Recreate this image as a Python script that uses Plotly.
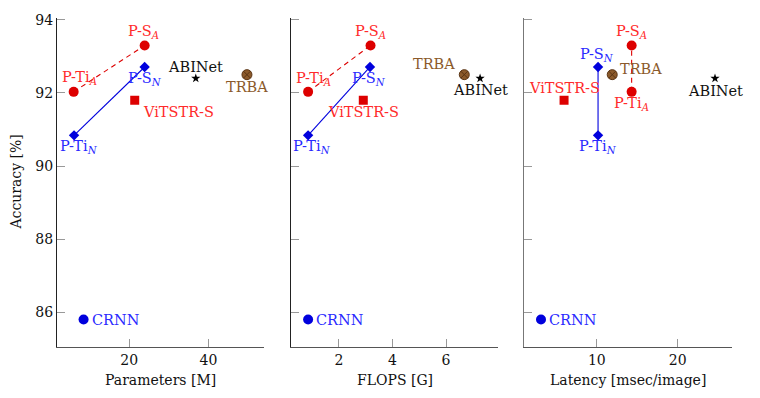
import plotly.graph_objects as go

# ---- data ----
models = ["P-Ti_A", "P-S_A", "P-Ti_N", "P-S_N", "ViTSTR-S", "ABINet", "TRBA", "CRNN"]
display = ["P-Ti<sub><i>A</i></sub>", "P-S<sub><i>A</i></sub>", "P-Ti<sub><i>N</i></sub>",
           "P-S<sub><i>N</i></sub>", "ViTSTR-S", "ABINet", "TRBA", "CRNN"]
accuracy = [92.03, 93.30, 90.84, 92.71, 91.80, 92.40, 92.50, 85.80]
params_m = [6.0, 23.9, 6.1, 23.9, 21.4, 36.8, 49.7, 8.5]
flops_g = [0.85, 3.18, 0.85, 3.16, 2.91, 7.27, 6.68, 0.85]
latency_ms = [14.3, 14.3, 10.15, 10.15, 5.95, 24.6, 11.9, 3.1]

x_titles = ["Parameters [M]", "FLOPS [G]", "Latency [msec/image]"]
x_ranges = [[1.8, 54.0], [0.2, 7.95], [1.0, 26.7]]
x_ticks = [[20, 40], [2, 4, 6], [10, 20]]
y_ticks = [86, 88, 90, 92, 94]
y_range = [85.05, 94.05]

# ---- styles ----
mark_red, mark_blue, mark_brown = "#dd0000", "#0000dd", "#8b5a2b"
txt_red, txt_blue, txt_brown, txt_black = "#ff2a2a", "#2a2aff", "#8b5a2b", "#111111"
style = {
    "P-Ti_A": dict(symbol="circle", color=mark_red, size=10, tc=txt_red),
    "P-S_A": dict(symbol="circle", color=mark_red, size=10, tc=txt_red),
    "P-Ti_N": dict(symbol="diamond", color=mark_blue, size=8, tc=txt_blue),
    "P-S_N": dict(symbol="diamond", color=mark_blue, size=8, tc=txt_blue),
    "ViTSTR-S": dict(symbol="square", color=mark_red, size=9, tc=txt_red),
    "ABINet": dict(symbol="star", color="#000000", size=7, tc=txt_black),
    "TRBA": dict(symbol="circle-x", color=mark_brown, size=10, tc=txt_brown),
    "CRNN": dict(symbol="circle", color=mark_blue, size=10, tc=txt_blue),
}
# label placement per panel: (xanchor, dx, dy) with dy positive = downwards
label_pos = [
    {"P-Ti_A": ("center", 6, -14), "P-S_A": ("center", -1, -13), "P-Ti_N": ("center", 5, 12),
     "P-S_N": ("center", 0, 12), "ViTSTR-S": ("left", 6, 12), "ABINet": ("center", 0, -11),
     "TRBA": ("center", 0, 12), "CRNN": ("left", 6, 0)},
    {"P-Ti_A": ("center", 5, -13), "P-S_A": ("center", 0, -13), "P-Ti_N": ("center", 4, 12),
     "P-S_N": ("center", -1, 12), "ViTSTR-S": ("center", 0, 12), "ABINet": ("center", 0, 12),
     "TRBA": ("right", -7, -11), "CRNN": ("left", 6, 0)},
    {"P-Ti_A": ("center", 0, 12), "P-S_A": ("center", 0, -13), "P-Ti_N": ("center", 0, 12),
     "P-S_N": ("center", -1, -12), "ViTSTR-S": ("center", 0, -12), "ABINet": ("center", 0, 13),
     "TRBA": ("left", 6, -6), "CRNN": ("left", 6, 0)},
]

FONT = "DejaVu Serif"
W, H = 760, 398
ML, MR, MT, MB = 57, 28, 13, 51
pw = W - ML - MR
panel_px = [(57, 264), (290.7, 498.3), (524, 732)]
domains = [[(a - ML) / pw, (b - ML) / pw] for a, b in panel_px]

fig = go.Figure()
xs_all = [params_m, flops_g, latency_ms]
annotations = []
for p in range(3):
    xs = xs_all[p]
    xa = "x" if p == 0 else f"x{p+1}"
    ya = "y" if p == 0 else f"y{p+1}"
    idx = {m: i for i, m in enumerate(models)}
    # connecting lines
    a, b = idx["P-Ti_A"], idx["P-S_A"]
    fig.add_trace(go.Scatter(x=[xs[a], xs[b]], y=[accuracy[a], accuracy[b]], mode="lines",
                             line=dict(color=mark_red, width=1.1, dash="5px,4px"),
                             xaxis=xa, yaxis=ya, showlegend=False, hoverinfo="skip"))
    a, b = idx["P-Ti_N"], idx["P-S_N"]
    fig.add_trace(go.Scatter(x=[xs[a], xs[b]], y=[accuracy[a], accuracy[b]], mode="lines",
                             line=dict(color=mark_blue, width=1.1),
                             xaxis=xa, yaxis=ya, showlegend=False, hoverinfo="skip"))
    for i, m in enumerate(models):
        st = style[m]
        line_col = "#5a3414" if m == "TRBA" else st["color"]
        fig.add_trace(go.Scatter(x=[xs[i]], y=[accuracy[i]], mode="markers",
                                 marker=dict(symbol=st["symbol"], color=st["color"], size=st["size"],
                                             line=dict(color=line_col, width=1 if m == "TRBA" else 0)),
                                 xaxis=xa, yaxis=ya, showlegend=False, name=m))
        anc, dx, dy = label_pos[p][m]
        annotations.append(dict(x=xs[i], y=accuracy[i], xref=xa, yref=ya, text=display[i],
                                showarrow=False, xanchor=anc, yanchor="middle",
                                xshift=dx, yshift=-dy,
                                font=dict(family=FONT, size=14.5, color=st["tc"])))
    ax_common = dict(showline=True, linewidth=1.2, showgrid=False, zeroline=False,
                     ticks="inside", ticklen=8, tickwidth=1, tickcolor="#999999",
                     tickfont=dict(family=FONT, size=14, color="#111111"))
    fig.update_layout(**{
        ("xaxis" if p == 0 else f"xaxis{p+1}"): dict(
            domain=domains[p], range=x_ranges[p], tickvals=x_ticks[p], anchor=ya,
            linecolor="#555555", **ax_common),
        ("yaxis" if p == 0 else f"yaxis{p+1}"): dict(
            domain=[0, 1], range=y_range, tickvals=y_ticks, anchor=xa,
            showticklabels=(p == 0),
            linecolor="#222222" if p < 2 else "#777777", **ax_common),
    })
    cx = sum(domains[p]) / 2
    annotations.append(dict(x=cx, y=0, xref="paper", yref="paper", text=x_titles[p],
                            showarrow=False, xanchor="center", yanchor="middle", yshift=-33,
                            font=dict(family=FONT, size=14, color="#111111")))

annotations.append(dict(x=0, y=(H - MB - 180) / (H - MT - MB), xref="paper", yref="paper",
                        text="Accuracy [%]", showarrow=False, textangle=-90,
                        xanchor="center", yanchor="middle", xshift=-(ML - 15),
                        font=dict(family=FONT, size=14, color="#111111")))

fig.update_layout(width=W, height=H, margin=dict(l=ML, r=MR, t=MT, b=MB),
                  paper_bgcolor="white", plot_bgcolor="white",
                  annotations=annotations, hovermode=False)
fig.write_html("out.html", config={"displayModeBar": False},
               post_script="document.body.style.margin='0';document.body.style.padding='0';")
